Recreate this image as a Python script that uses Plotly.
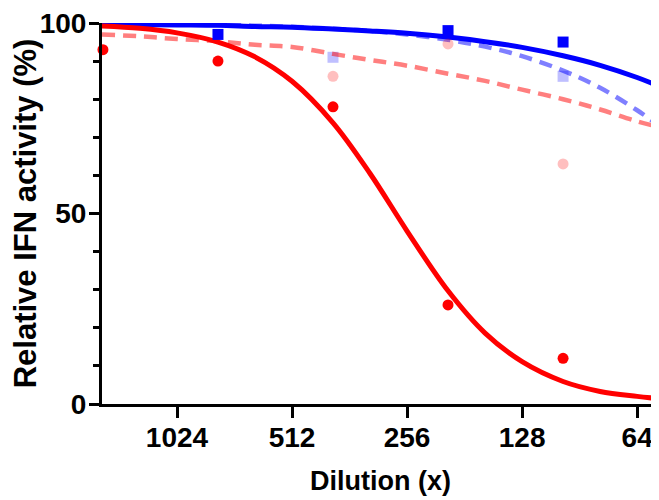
import math
import plotly.graph_objects as go

# ---- data ----
dilution_pts = [1600, 800, 400, 200, 100]
red_pts = [93, 90, 78, 26, 12]
pink_pts = [None, None, 86, 94.5, 63]
blue_pts = [None, 97, None, 98, 95]
lightblue_pts = [None, None, 91, None, 86]

curve_dil = [1609, 1280, 1024, 800, 640, 512, 400, 320, 256, 200, 160, 128, 100, 80, 64, 56]
red_curve = [99.2, 98.6, 97.4, 95.0, 91.1, 84.7, 73.8, 60.5, 45.4, 29.7, 18.6, 11.1, 5.9, 3.3, 2.0, 1.4]
blue_curve = [99.7, 99.6, 99.5, 99.4, 99.1, 98.9, 98.4, 97.9, 97.3, 96.3, 95.1, 93.6, 91.4, 88.9, 85.7, 83.4]
lightblue_curve = [99.85, 99.8, 99.7, 99.5, 99.3, 99.0, 98.5, 97.9, 97.0, 95.6, 93.8, 91.3, 87.5, 83.0, 77.1, 73.0]
pink_curve = [97.0, 96.5, 95.8, 95.2, 94.3, 93.7, 91.9, 90.3, 88.8, 86.7, 84.8, 82.5, 80.0, 77.3, 74.2, 72.7]

x_ticks = [1024, 512, 256, 128, 64]
y_ticks = [0, 50, 100]
x_range = [1609, 56.1]
y_range = [0, 100]

RED = "#FF0000"
BLUE = "#0000FF"
PINK_LINE = "rgba(255,0,0,0.5)"
PINK_MARK = "rgba(255,0,0,0.25)"
LBLUE_LINE = "rgba(0,0,255,0.5)"
LBLUE_MARK = "rgba(0,0,255,0.25)"

FONT = "Liberation Sans, Arial, sans-serif"

fig = go.Figure()

fig.add_trace(go.Scatter(x=dilution_pts, y=lightblue_pts, mode="markers",
                         marker=dict(symbol="square", size=11, color=LBLUE_MARK),
                         cliponaxis=False))
fig.add_trace(go.Scatter(x=curve_dil, y=pink_curve, mode="lines", line_shape="spline",
                         line=dict(color=PINK_LINE, width=4.5, dash="13px,8px")))
fig.add_trace(go.Scatter(x=curve_dil, y=lightblue_curve, mode="lines", line_shape="spline",
                         line=dict(color=LBLUE_LINE, width=4.5, dash="13px,8px")))
fig.add_trace(go.Scatter(x=curve_dil, y=blue_curve, mode="lines", line_shape="spline",
                         line=dict(color=BLUE, width=5)))
fig.add_trace(go.Scatter(x=curve_dil, y=red_curve, mode="lines", line_shape="spline",
                         line=dict(color=RED, width=5)))
fig.add_trace(go.Scatter(x=dilution_pts, y=blue_pts, mode="markers",
                         marker=dict(symbol="square", size=11, color=BLUE),
                         cliponaxis=False))
fig.add_trace(go.Scatter(x=dilution_pts, y=red_pts, mode="markers",
                         marker=dict(symbol="circle", size=11, color=RED),
                         cliponaxis=False))
fig.add_trace(go.Scatter(x=dilution_pts, y=pink_pts, mode="markers",
                         marker=dict(symbol="circle", size=11, color=PINK_MARK),
                         cliponaxis=False))

tickfont = dict(family=FONT, size=28, color="black", weight="bold")
xtitlefont = dict(family=FONT, size=27, color="black", weight="bold")
ytitlefont = dict(family=FONT, size=31, color="black", weight="bold")

fig.update_layout(
    width=651, height=492,
    margin=dict(l=94, r=0, t=12, b=96),
    plot_bgcolor="white", paper_bgcolor="white",
    showlegend=False,
    xaxis=dict(
        type="log",
        range=[math.log10(x_range[0]), math.log10(x_range[1])],
        tickvals=x_ticks, ticktext=[str(v) for v in x_ticks],
        ticks="outside", ticklen=11, tickwidth=3, tickcolor="black",
        showline=True, linewidth=3, linecolor="black",
        showgrid=False, zeroline=False,
        tickfont=tickfont, ticklabelstandoff=-5, ticklabeloverflow="allow",
        title=dict(text="Dilution (x)", font=xtitlefont, standoff=20),
    ),
    yaxis=dict(
        range=y_range,
        tickvals=y_ticks, ticktext=[str(v) for v in y_ticks],
        ticks="outside", ticklen=10, tickwidth=3, tickcolor="black",
        minor=dict(dtick=10, ticklen=6, tickwidth=3, tickcolor="black", ticks="outside"),
        showline=True, linewidth=3, linecolor="black",
        showgrid=False, zeroline=False,
        tickfont=tickfont, ticklabelstandoff=-3, ticklabeloverflow="allow",
        title=dict(text="Relative IFN activity (%)", font=ytitlefont, standoff=2),
    ),
)

fig.write_html("out.html")
